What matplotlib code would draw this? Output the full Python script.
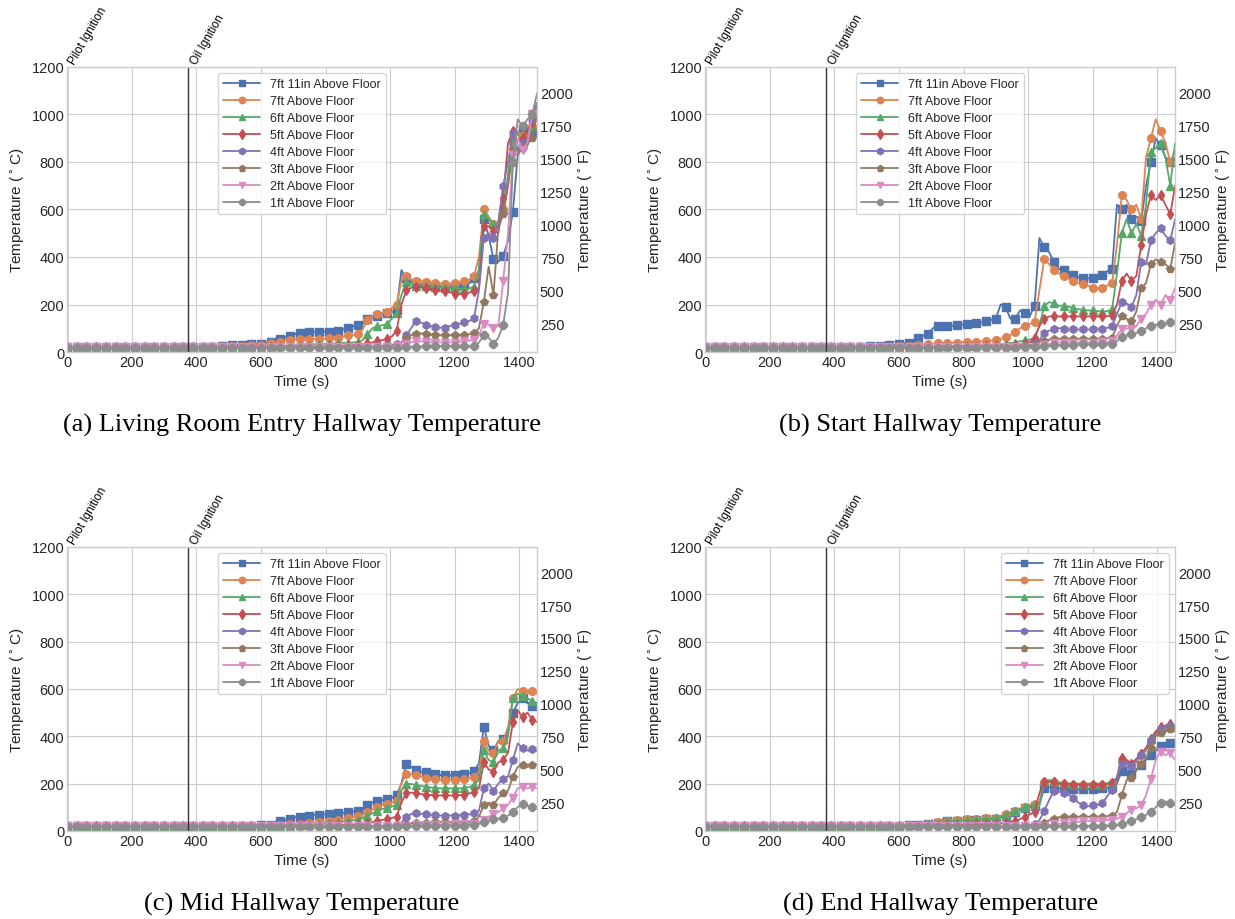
import numpy as np
import matplotlib
matplotlib.use('Agg')
import matplotlib.pyplot as plt

plt.style.use('seaborn-v0_8-whitegrid')
plt.rcParams['font.family'] = ['Liberation Sans', 'DejaVu Sans']
plt.rcParams['mathtext.fontset'] = 'dejavusans'

# thermocouple trees, sampled every 15 s
time = np.arange(0, 1456, 15)

labels = ['7ft 11in Above Floor', '7ft Above Floor', '6ft Above Floor', '5ft Above Floor',
          '4ft Above Floor', '3ft Above Floor', '2ft Above Floor', '1ft Above Floor']
colors = ['#4C72B0', '#DD8452', '#55A868', '#C44E52', '#8172B3', '#937860', '#DA8BC3', '#8C8C8C']
markers = ['s', 'o', '^', 'd', 'h', 'p', 'v', '8']

pilot_ignition = 0
oil_ignition = 375

# ---- Living room entry hallway
a_7ft11in = [20, 20, 20, 20, 20, 20, 20, 20, 20, 20,
             20, 20, 20, 20, 20, 20, 20, 20, 20, 20,
             20, 20, 20, 20, 20, 20, 20, 20, 20, 20,
             21, 22, 24, 26, 28, 30, 31, 32, 33, 34,
             35, 38, 42, 48, 55, 62, 68, 75, 80, 82,
             85, 85, 85, 86, 86, 86, 88, 95, 100, 108,
             112, 125, 140, 148, 152, 158, 165, 168, 175, 345,
             310, 295, 290, 285, 282, 280, 278, 276, 275, 275,
             276, 278, 282, 290, 310, 340, 560, 490, 390, 380,
             405, 470, 590, 830, 940, 870, 920, 940]
a_7ft = [20, 20, 20, 20, 20, 20, 20, 20, 20, 20,
         20, 20, 20, 20, 20, 20, 20, 20, 20, 20,
         20, 20, 20, 20, 20, 20, 20, 20, 20, 20,
         21, 22, 23, 24, 25, 26, 27, 28, 29, 30,
         31, 33, 36, 40, 44, 48, 50, 52, 54, 55,
         55, 55, 55, 56, 57, 58, 60, 65, 70, 72,
         75, 95, 135, 152, 160, 165, 170, 185, 200, 300,
         320, 305, 300, 298, 295, 292, 290, 288, 287, 288,
         290, 292, 298, 305, 320, 400, 600, 570, 540, 530,
         600, 700, 880, 930, 910, 890, 950, 1000]
a_6ft = [20, 20, 20, 20, 20, 20, 20, 20, 20, 20,
         20, 20, 20, 20, 20, 20, 20, 20, 20, 20,
         20, 20, 20, 20, 20, 20, 20, 20, 20, 20,
         20, 20, 20, 20, 20, 20, 20, 20, 20, 20,
         21, 22, 23, 24, 25, 26, 27, 28, 29, 30,
         31, 32, 33, 34, 35, 36, 37, 38, 39, 40,
         42, 50, 75, 100, 108, 112, 118, 140, 165, 240,
         295, 285, 280, 278, 276, 275, 273, 272, 271, 270,
         268, 267, 266, 268, 275, 350, 580, 560, 540, 520,
         600, 750, 900, 920, 880, 900, 950, 1040]
a_5ft = [20, 20, 20, 20, 20, 20, 20, 20, 20, 20,
         20, 20, 20, 20, 20, 20, 20, 20, 20, 20,
         20, 20, 20, 20, 20, 20, 20, 20, 20, 20,
         20, 20, 20, 20, 20, 20, 20, 20, 20, 20,
         20, 20, 20, 20, 20, 20, 20, 20, 20, 20,
         21, 22, 22, 23, 24, 25, 26, 27, 28, 29,
         30, 32, 36, 40, 45, 50, 55, 65, 90, 200,
         260, 270, 275, 272, 268, 265, 262, 258, 255, 252,
         245, 243, 245, 250, 255, 270, 530, 530, 510, 500,
         650, 880, 930, 890, 900, 930, 970, 1050]
a_4ft = [20, 20, 20, 20, 20, 20, 20, 20, 20, 20,
         20, 20, 20, 20, 20, 20, 20, 20, 20, 20,
         20, 20, 20, 20, 20, 20, 20, 20, 20, 20,
         20, 20, 20, 20, 20, 20, 20, 20, 20, 20,
         20, 20, 20, 20, 20, 20, 20, 20, 20, 20,
         20, 20, 20, 20, 20, 20, 20, 20, 20, 20,
         21, 22, 23, 24, 25, 26, 28, 30, 33, 40,
         70, 100, 130, 125, 115, 110, 105, 102, 103, 110,
         115, 120, 125, 130, 145, 260, 480, 500, 480, 550,
         700, 800, 920, 850, 880, 900, 980, 1050]
a_3ft = [20, 20, 20, 20, 20, 20, 20, 20, 20, 20,
         20, 20, 20, 20, 20, 20, 20, 20, 20, 20,
         20, 20, 20, 20, 20, 20, 20, 20, 20, 20,
         20, 20, 20, 20, 20, 20, 20, 20, 20, 20,
         20, 20, 20, 20, 20, 20, 20, 20, 20, 20,
         20, 20, 20, 20, 20, 20, 20, 20, 20, 20,
         20, 21, 21, 22, 23, 24, 25, 27, 30, 40,
         60, 70, 75, 78, 75, 72, 70, 70, 70, 70,
         70, 70, 72, 74, 78, 100, 210, 360, 240, 520,
         580, 700, 850, 830, 860, 880, 900, 1000]
a_2ft = [20, 20, 20, 20, 20, 20, 20, 20, 20, 20,
         20, 20, 20, 20, 20, 20, 20, 20, 20, 20,
         20, 20, 20, 20, 20, 20, 20, 20, 20, 20,
         20, 20, 20, 20, 20, 20, 20, 20, 20, 20,
         20, 20, 20, 20, 20, 20, 20, 20, 20, 20,
         20, 20, 20, 20, 20, 20, 20, 20, 20, 20,
         20, 20, 21, 21, 22, 22, 23, 24, 25, 28,
         35, 40, 45, 45, 42, 40, 40, 40, 40, 40,
         40, 42, 45, 48, 50, 70, 120, 115, 100, 110,
         300, 500, 830, 900, 850, 880, 1000, 1000]
a_1ft = [18, 18, 18, 18, 18, 18, 18, 18, 18, 18,
         18, 18, 18, 18, 18, 18, 18, 18, 18, 18,
         18, 18, 18, 18, 18, 18, 18, 18, 18, 18,
         18, 18, 18, 18, 18, 18, 18, 18, 18, 18,
         18, 18, 18, 18, 18, 18, 18, 18, 18, 18,
         18, 18, 18, 18, 18, 18, 18, 18, 18, 18,
         18, 18, 18, 18, 18, 18, 18, 18, 18, 18,
         20, 22, 22, 23, 24, 25, 25, 25, 25, 25,
         25, 26, 27, 25, 25, 40, 70, 60, 35, 60,
         115, 250, 800, 980, 950, 980, 1000, 1090]

# ---- Start hallway
b_7ft11in = [20, 20, 20, 20, 20, 20, 20, 20, 20, 20,
             20, 20, 20, 20, 20, 20, 20, 20, 20, 20,
             20, 20, 20, 20, 20, 20, 20, 20, 20, 20,
             21, 22, 23, 24, 25, 26, 27, 28, 29, 30,
             32, 34, 40, 50, 60, 68, 75, 100, 108, 110,
             110, 110, 112, 115, 118, 120, 122, 125, 130, 135,
             140, 200, 190, 140, 140, 175, 165, 150, 195, 480,
             440, 420, 380, 350, 345, 335, 325, 315, 310, 310,
             310, 315, 325, 340, 350, 620, 600, 620, 560, 570,
             550, 700, 800, 900, 870, 820, 800, 780]
b_7ft = [20, 20, 20, 20, 20, 20, 20, 20, 20, 20,
         20, 20, 20, 20, 20, 20, 20, 20, 20, 20,
         20, 20, 20, 20, 20, 20, 20, 20, 20, 20,
         20, 20, 21, 21, 21, 22, 22, 22, 23, 23,
         24, 25, 27, 29, 30, 32, 33, 35, 36, 37,
         38, 39, 40, 41, 42, 43, 44, 45, 46, 48,
         50, 55, 62, 72, 85, 100, 108, 118, 127, 260,
         390, 370, 345, 330, 320, 310, 300, 290, 285, 280,
         270, 268, 270, 280, 290, 450, 660, 640, 600, 620,
         560, 820, 900, 980, 930, 880, 800, 850]
b_6ft = [20, 20, 20, 20, 20, 20, 20, 20, 20, 20,
         20, 20, 20, 20, 20, 20, 20, 20, 20, 20,
         20, 20, 20, 20, 20, 20, 20, 20, 20, 20,
         20, 20, 20, 20, 20, 20, 20, 20, 20, 20,
         20, 20, 21, 21, 22, 22, 22, 23, 23, 24,
         24, 25, 25, 26, 26, 27, 27, 28, 28, 29,
         30, 32, 35, 38, 40, 45, 50, 52, 60, 110,
         195, 210, 205, 195, 195, 190, 185, 180, 178, 175,
         175, 172, 170, 172, 180, 330, 500, 560, 500, 540,
         490, 620, 840, 860, 880, 820, 700, 880]
b_5ft = [20, 20, 20, 20, 20, 20, 20, 20, 20, 20,
         20, 20, 20, 20, 20, 20, 20, 20, 20, 20,
         20, 20, 20, 20, 20, 20, 20, 20, 20, 20,
         20, 20, 20, 20, 20, 20, 20, 20, 20, 20,
         20, 20, 20, 20, 20, 20, 20, 20, 20, 20,
         20, 21, 21, 22, 22, 23, 23, 24, 24, 25,
         25, 26, 27, 28, 30, 32, 35, 40, 60, 110,
         140, 150, 150, 150, 150, 150, 150, 150, 150, 150,
         150, 150, 150, 150, 155, 200, 300, 330, 300, 320,
         450, 580, 660, 640, 660, 620, 580, 700]
b_4ft = [20, 20, 20, 20, 20, 20, 20, 20, 20, 20,
         20, 20, 20, 20, 20, 20, 20, 20, 20, 20,
         20, 20, 20, 20, 20, 20, 20, 20, 20, 20,
         20, 20, 20, 20, 20, 20, 20, 20, 20, 20,
         20, 20, 20, 20, 20, 20, 20, 20, 20, 20,
         20, 20, 20, 20, 20, 20, 20, 20, 20, 20,
         20, 21, 21, 22, 23, 25, 27, 30, 33, 50,
         80, 90, 95, 100, 98, 95, 95, 95, 95, 95,
         95, 95, 98, 102, 108, 160, 210, 205, 190, 240,
         380, 370, 470, 500, 520, 490, 470, 560]
b_3ft = [20, 20, 20, 20, 20, 20, 20, 20, 20, 20,
         20, 20, 20, 20, 20, 20, 20, 20, 20, 20,
         20, 20, 20, 20, 20, 20, 20, 20, 20, 20,
         20, 20, 20, 20, 20, 20, 20, 20, 20, 20,
         20, 20, 20, 20, 20, 20, 20, 20, 20, 20,
         20, 20, 20, 20, 20, 20, 20, 20, 20, 20,
         20, 20, 21, 21, 22, 23, 24, 25, 28, 40,
         48, 52, 55, 55, 55, 55, 55, 55, 55, 55,
         55, 55, 56, 58, 60, 110, 150, 140, 130, 170,
         270, 290, 370, 390, 380, 370, 350, 460]
b_2ft = [20, 20, 20, 20, 20, 20, 20, 20, 20, 20,
         20, 20, 20, 20, 20, 20, 20, 20, 20, 20,
         20, 20, 20, 20, 20, 20, 20, 20, 20, 20,
         20, 20, 20, 20, 20, 20, 20, 20, 20, 20,
         20, 20, 20, 20, 20, 20, 20, 20, 20, 20,
         20, 20, 20, 20, 20, 20, 20, 20, 20, 20,
         20, 20, 20, 20, 20, 20, 21, 21, 22, 25,
         30, 33, 38, 40, 40, 40, 40, 40, 40, 40,
         40, 40, 41, 42, 45, 70, 95, 100, 95, 110,
         140, 160, 200, 220, 200, 240, 220, 270]
b_1ft = [18, 18, 18, 18, 18, 18, 18, 18, 18, 18,
         18, 18, 18, 18, 18, 18, 18, 18, 18, 18,
         18, 18, 18, 18, 18, 18, 18, 18, 18, 18,
         18, 18, 18, 18, 18, 18, 18, 18, 18, 18,
         18, 18, 18, 18, 18, 18, 18, 18, 18, 18,
         18, 18, 18, 18, 18, 18, 18, 18, 18, 18,
         18, 18, 18, 18, 18, 18, 19, 19, 20, 22,
         25, 27, 30, 30, 30, 31, 31, 32, 32, 32,
         32, 33, 33, 34, 35, 45, 65, 70, 75, 80,
         90, 100, 110, 115, 118, 120, 125, 128]

# ---- Mid hallway
c_7ft11in = [20, 20, 20, 20, 20, 20, 20, 20, 20, 20,
             20, 20, 20, 20, 20, 20, 20, 20, 20, 20,
             20, 20, 20, 20, 20, 20, 20, 20, 20, 20,
             20, 21, 21, 21, 22, 22, 22, 23, 23, 24,
             24, 25, 27, 30, 40, 45, 52, 58, 60, 62,
             65, 67, 68, 70, 72, 73, 75, 76, 80, 82,
             85, 95, 110, 120, 125, 130, 135, 140, 150, 200,
             285, 270, 258, 250, 248, 245, 240, 236, 235, 235,
             235, 236, 240, 245, 255, 285, 440, 360, 340, 380,
             390, 420, 500, 540, 560, 540, 530, 520]
c_7ft = [20, 20, 20, 20, 20, 20, 20, 20, 20, 20,
         20, 20, 20, 20, 20, 20, 20, 20, 20, 20,
         20, 20, 20, 20, 20, 20, 20, 20, 20, 20,
         20, 20, 20, 21, 21, 21, 22, 22, 22, 22,
         23, 23, 24, 25, 26, 27, 28, 29, 30, 32,
         34, 36, 38, 40, 42, 45, 48, 52, 55, 58,
         62, 70, 80, 90, 100, 108, 115, 120, 125, 200,
         240, 240, 235, 230, 225, 222, 218, 215, 215, 215,
         215, 216, 218, 222, 230, 250, 380, 340, 330, 380,
         380, 440, 560, 600, 590, 580, 590, 580]
c_6ft = [20, 20, 20, 20, 20, 20, 20, 20, 20, 20,
         20, 20, 20, 20, 20, 20, 20, 20, 20, 20,
         20, 20, 20, 20, 20, 20, 20, 20, 20, 20,
         20, 20, 20, 20, 20, 20, 20, 20, 20, 20,
         20, 21, 21, 22, 22, 23, 23, 24, 25, 26,
         27, 28, 30, 31, 33, 35, 37, 40, 42, 45,
         48, 55, 65, 75, 85, 92, 98, 103, 110, 170,
         200, 198, 195, 190, 187, 184, 182, 180, 180, 180,
         180, 180, 182, 185, 195, 215, 340, 300, 290, 340,
         350, 400, 560, 580, 570, 560, 550, 530]
c_5ft = [20, 20, 20, 20, 20, 20, 20, 20, 20, 20,
         20, 20, 20, 20, 20, 20, 20, 20, 20, 20,
         20, 20, 20, 20, 20, 20, 20, 20, 20, 20,
         20, 20, 20, 20, 20, 20, 20, 20, 20, 20,
         20, 20, 20, 20, 20, 20, 20, 20, 20, 20,
         20, 21, 21, 22, 22, 23, 24, 25, 26, 27,
         28, 30, 33, 37, 42, 47, 50, 55, 60, 120,
         160, 162, 160, 156, 154, 152, 150, 150, 150, 150,
         150, 151, 153, 158, 165, 180, 290, 260, 250, 290,
         300, 330, 460, 510, 480, 500, 470, 460]
c_4ft = [20, 20, 20, 20, 20, 20, 20, 20, 20, 20,
         20, 20, 20, 20, 20, 20, 20, 20, 20, 20,
         20, 20, 20, 20, 20, 20, 20, 20, 20, 20,
         20, 20, 20, 20, 20, 20, 20, 20, 20, 20,
         20, 20, 20, 20, 20, 20, 20, 20, 20, 20,
         20, 20, 20, 20, 20, 20, 20, 20, 20, 20,
         20, 20, 21, 21, 21, 22, 22, 23, 26, 35,
         60, 72, 75, 72, 70, 68, 66, 65, 65, 65,
         65, 66, 68, 70, 75, 85, 180, 200, 170, 200,
         220, 230, 300, 370, 350, 340, 345, 340]
c_3ft = [20, 20, 20, 20, 20, 20, 20, 20, 20, 20,
         20, 20, 20, 20, 20, 20, 20, 20, 20, 20,
         20, 20, 20, 20, 20, 20, 20, 20, 20, 20,
         20, 20, 20, 20, 20, 20, 20, 20, 20, 20,
         20, 20, 20, 20, 20, 20, 20, 20, 20, 20,
         20, 20, 20, 20, 20, 20, 20, 20, 20, 20,
         20, 20, 20, 21, 21, 21, 22, 22, 23, 26,
         30, 32, 34, 35, 35, 36, 36, 37, 37, 37,
         37, 38, 38, 39, 40, 60, 110, 120, 110, 140,
         160, 170, 230, 270, 280, 270, 280, 280]
c_2ft = [20, 20, 20, 20, 20, 20, 20, 20, 20, 20,
         20, 20, 20, 20, 20, 20, 20, 20, 20, 20,
         20, 20, 20, 20, 20, 20, 20, 20, 20, 20,
         20, 20, 20, 20, 20, 20, 20, 20, 20, 20,
         20, 20, 20, 20, 20, 20, 20, 20, 20, 20,
         20, 20, 20, 20, 20, 20, 20, 20, 20, 20,
         20, 20, 20, 20, 20, 20, 20, 20, 21, 21,
         22, 23, 24, 25, 25, 26, 26, 27, 27, 28,
         28, 28, 29, 30, 30, 35, 45, 60, 70, 80,
         95, 110, 140, 180, 185, 180, 185, 180]
c_1ft = [18, 18, 18, 18, 18, 18, 18, 18, 18, 18,
         18, 18, 18, 18, 18, 18, 18, 18, 18, 18,
         18, 18, 18, 18, 18, 18, 18, 18, 18, 18,
         18, 18, 18, 18, 18, 18, 18, 18, 18, 18,
         18, 18, 18, 18, 18, 18, 18, 18, 18, 18,
         18, 18, 18, 18, 18, 18, 18, 18, 18, 18,
         18, 18, 18, 18, 18, 18, 18, 18, 18, 18,
         19, 19, 20, 20, 20, 20, 21, 21, 21, 22,
         22, 22, 23, 24, 25, 30, 38, 45, 50, 52,
         55, 65, 80, 100, 115, 105, 100, 95]

# ---- End hallway
d_7ft11in = [20, 20, 20, 20, 20, 20, 20, 20, 20, 20,
             20, 20, 20, 20, 20, 20, 20, 20, 20, 20,
             20, 20, 20, 20, 20, 20, 20, 20, 20, 20,
             20, 20, 21, 21, 21, 21, 22, 22, 22, 22,
             22, 23, 24, 25, 26, 27, 28, 30, 32, 35,
             40, 42, 44, 45, 46, 47, 48, 49, 50, 51,
             52, 58, 65, 72, 80, 88, 95, 100, 105, 110,
             182, 185, 182, 180, 180, 178, 178, 178, 178, 178,
             178, 179, 180, 182, 185, 200, 255, 250, 240, 260,
             280, 300, 320, 340, 360, 370, 370, 370]
d_7ft = [20, 20, 20, 20, 20, 20, 20, 20, 20, 20,
         20, 20, 20, 20, 20, 20, 20, 20, 20, 20,
         20, 20, 20, 20, 20, 20, 20, 20, 20, 20,
         20, 20, 21, 21, 21, 22, 22, 22, 22, 23,
         23, 24, 25, 26, 27, 28, 29, 32, 36, 40,
         44, 46, 48, 49, 50, 51, 52, 53, 54, 55,
         56, 62, 70, 78, 85, 95, 102, 108, 112, 115,
         205, 210, 205, 200, 200, 198, 196, 195, 195, 195,
         195, 195, 196, 198, 202, 220, 300, 290, 280, 290,
         320, 340, 380, 410, 430, 440, 445, 430]
d_6ft = [20, 20, 20, 20, 20, 20, 20, 20, 20, 20,
         20, 20, 20, 20, 20, 20, 20, 20, 20, 20,
         20, 20, 20, 20, 20, 20, 20, 20, 20, 20,
         20, 20, 20, 21, 21, 21, 22, 22, 22, 22,
         22, 23, 24, 25, 26, 27, 28, 30, 33, 37,
         40, 42, 44, 46, 47, 48, 49, 50, 51, 52,
         54, 60, 68, 76, 83, 92, 100, 105, 110, 115,
         210, 215, 210, 205, 203, 200, 200, 200, 200, 200,
         200, 200, 200, 202, 206, 225, 310, 295, 285, 300,
         330, 350, 390, 420, 440, 445, 450, 440]
d_5ft = [20, 20, 20, 20, 20, 20, 20, 20, 20, 20,
         20, 20, 20, 20, 20, 20, 20, 20, 20, 20,
         20, 20, 20, 20, 20, 20, 20, 20, 20, 20,
         20, 20, 20, 20, 20, 20, 20, 20, 20, 20,
         20, 20, 21, 21, 21, 22, 22, 22, 23, 23,
         24, 24, 25, 25, 26, 27, 28, 29, 30, 30,
         30, 32, 35, 38, 42, 50, 60, 70, 80, 160,
         205, 208, 205, 200, 200, 198, 196, 195, 195, 195,
         195, 195, 196, 198, 202, 215, 310, 300, 285, 305,
         325, 350, 390, 420, 440, 445, 450, 430]
d_4ft = [20, 20, 20, 20, 20, 20, 20, 20, 20, 20,
         20, 20, 20, 20, 20, 20, 20, 20, 20, 20,
         20, 20, 20, 20, 20, 20, 20, 20, 20, 20,
         20, 20, 20, 20, 20, 20, 20, 20, 20, 20,
         20, 20, 20, 20, 20, 20, 20, 20, 20, 20,
         20, 20, 20, 20, 20, 20, 20, 20, 20, 20,
         20, 21, 21, 22, 22, 23, 24, 25, 30, 45,
         85, 130, 170, 168, 160, 155, 140, 120, 108, 105,
         108, 110, 118, 147, 175, 230, 285, 285, 275, 300,
         320, 345, 385, 410, 430, 440, 445, 430]
d_3ft = [20, 20, 20, 20, 20, 20, 20, 20, 20, 20,
         20, 20, 20, 20, 20, 20, 20, 20, 20, 20,
         20, 20, 20, 20, 20, 20, 20, 20, 20, 20,
         20, 20, 20, 20, 20, 20, 20, 20, 20, 20,
         20, 20, 20, 20, 20, 20, 20, 20, 20, 20,
         20, 20, 20, 20, 20, 20, 20, 20, 20, 20,
         20, 20, 20, 21, 21, 21, 22, 22, 23, 25,
         35, 45, 52, 58, 60, 60, 60, 60, 60, 60,
         60, 60, 61, 62, 64, 80, 150, 215, 225, 255,
         285, 305, 350, 400, 415, 420, 430, 420]
d_2ft = [20, 20, 20, 20, 20, 20, 20, 20, 20, 20,
         20, 20, 20, 20, 20, 20, 20, 20, 20, 20,
         20, 20, 20, 20, 20, 20, 20, 20, 20, 20,
         20, 20, 20, 20, 20, 20, 20, 20, 20, 20,
         20, 20, 20, 20, 20, 20, 20, 20, 20, 20,
         20, 20, 20, 20, 20, 20, 20, 20, 20, 20,
         20, 20, 20, 20, 20, 20, 21, 21, 22, 22,
         23, 25, 28, 30, 32, 34, 36, 38, 40, 41,
         42, 43, 44, 46, 48, 52, 60, 75, 90, 95,
         110, 150, 220, 300, 335, 320, 330, 300]
d_1ft = [18, 18, 18, 18, 18, 18, 18, 18, 18, 18,
         18, 18, 18, 18, 18, 18, 18, 18, 18, 18,
         18, 18, 18, 18, 18, 18, 18, 18, 18, 18,
         18, 18, 18, 18, 18, 18, 18, 18, 18, 18,
         18, 18, 18, 18, 18, 18, 18, 18, 18, 18,
         18, 18, 18, 18, 18, 18, 18, 18, 18, 18,
         18, 18, 18, 18, 18, 18, 18, 18, 18, 18,
         19, 19, 20, 20, 20, 20, 21, 21, 21, 21,
         22, 22, 22, 23, 24, 26, 30, 35, 42, 50,
         58, 68, 80, 100, 120, 125, 118, 108]

panel_a = [a_7ft11in, a_7ft, a_6ft, a_5ft, a_4ft, a_3ft, a_2ft, a_1ft]
panel_b = [b_7ft11in, b_7ft, b_6ft, b_5ft, b_4ft, b_3ft, b_2ft, b_1ft]
panel_c = [c_7ft11in, c_7ft, c_6ft, c_5ft, c_4ft, c_3ft, c_2ft, c_1ft]
panel_d = [d_7ft11in, d_7ft, d_6ft, d_5ft, d_4ft, d_3ft, d_2ft, d_1ft]

fig = plt.figure(figsize=(12.35, 9.2), dpi=100)


def draw_panel(rect, series, caption, legend_loc):
    ax = fig.add_axes(rect)
    for vals, lab, c, m in zip(series, labels, colors, markers):
        ax.plot(time, vals, color=c, marker=m, markevery=2, ms=5.5, lw=1.3, label=lab)
    ax.set_xlim(0, 1455)
    ax.set_ylim(0, 1200)
    ax.set_xticks(range(0, 1401, 200))
    ax.set_yticks(range(0, 1201, 200))
    ax.tick_params(labelsize=10.5, pad=2)

    for x, name in [(pilot_ignition, 'Pilot Ignition'), (oil_ignition, 'Oil Ignition')]:
        ax.axvline(x, color='0.2', lw=1)
        ax.text(x, 1.005, name, transform=ax.get_xaxis_transform(), rotation=60,
                ha='left', va='bottom', fontsize=8.5, color='black')

    ax.set_xlabel('Time (s)', fontsize=11, labelpad=4)
    ax.set_ylabel(r'Temperature ($^\circ$C)', fontsize=11, labelpad=3)
    ax.legend(loc=legend_loc, frameon=True, fontsize=9, labelspacing=0.4,
              handlelength=3, borderaxespad=0.5, markerscale=0.85)

    ax2 = ax.twinx()
    ax2.set_ylim(32, 1200 * 1.8 + 32)
    ax2.set_yticks(range(250, 2001, 250))
    ax2.grid(False)
    ax2.tick_params(labelsize=10.5, pad=2)
    ax2.set_ylabel(r'Temperature ($^\circ$F)', fontsize=11, labelpad=3)
    for s in ax2.spines.values():
        s.set_visible(False)

    x0, y0, w, h = rect
    fig.text(x0 + w / 2, y0 - 0.079, caption, ha='center', va='center',
             fontsize=19, family='Liberation Serif', color='black')


draw_panel([0.0543, 0.6163, 0.3806, 0.3098], panel_a,
           '(a) Living Room Entry Hallway Temperature', 'upper center')
draw_panel([0.5709, 0.6163, 0.3806, 0.3098], panel_b,
           '(b) Start Hallway Temperature', 'upper center')
draw_panel([0.0543, 0.0957, 0.3806, 0.3087], panel_c,
           '(c) Mid Hallway Temperature', 'upper center')
draw_panel([0.5709, 0.0957, 0.3806, 0.3087], panel_d,
           '(d) End Hallway Temperature', 'upper right')

fig.savefig('out.png', dpi=100)
